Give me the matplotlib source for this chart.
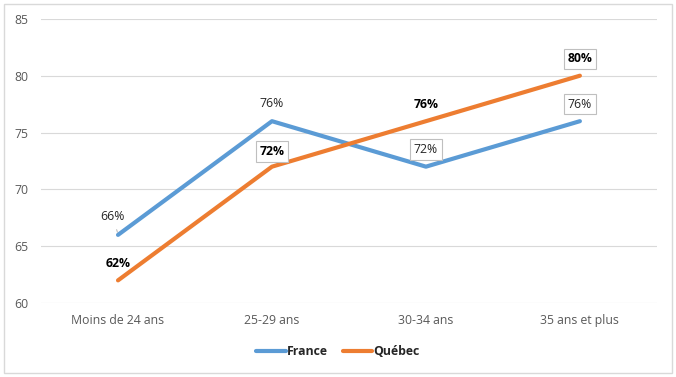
import matplotlib.pyplot as plt
from matplotlib.patches import Rectangle

categories = ['Moins de 24 ans', '25-29 ans', '30-34 ans', '35 ans et plus']
france = [66, 76, 72, 76]
quebec = [62, 72, 76, 80]
france_labels = ['66%', '76%', '72%', '76%']
quebec_labels = ['62%', '72%', '76%', '80%']
yticks = [60, 65, 70, 75, 80, 85]

plt.rcParams['font.family'] = ['Open Sans', 'DejaVu Sans']

fig = plt.figure(figsize=(6.76, 3.77), dpi=100)
ax = fig.add_axes([0.0607, 0.196, 0.911, 0.754])

x = range(len(categories))
ax.plot(x, france, color='#5B9BD5', lw=3, label='France', solid_capstyle='round', zorder=3)
ax.plot(x, quebec, color='#ED7D31', lw=3, label='Québec', solid_capstyle='round', zorder=3)

ax.set_xlim(-0.5, len(categories) - 0.5)
ax.set_ylim(60, 85)
ax.set_yticks(yticks)
ax.set_xticks(list(x))
ax.set_xticklabels(categories)
ax.tick_params(length=0, labelsize=8.8, colors='#595959', pad=8)
ax.tick_params(axis='y', pad=9)
ax.grid(axis='y', color='#D9D9D9', lw=0.8)
ax.set_axisbelow(True)
for s in ax.spines.values():
    s.set_visible(False)

box = dict(boxstyle='square,pad=0.3', fc='white', ec='#BFBFBF', lw=0.8)

# France labels (regular weight)
fr_offsets = [(-6, 18), (0, 18), (0, 17), (0, 17)]
fr_boxed = [False, False, True, True]
for i in x:
    ax.annotate(france_labels[i], (i, france[i]), xytext=fr_offsets[i],
                textcoords='offset pixels', ha='center', va='center',
                fontsize=8.8, color='#262626', zorder=5,
                bbox=box if fr_boxed[i] else None)
# leader line for first label
ax.annotate('', (0, france[0]), xytext=(-2, 8), textcoords='offset pixels',
            arrowprops=dict(arrowstyle='-', color='#A6A6A6', lw=0.6))

# Québec labels (bold)
qc_offsets = [(0, 17), (0, 15), (0, 17), (0, 17)]
qc_boxed = [False, True, False, True]
for i in x:
    ax.annotate(quebec_labels[i], (i, quebec[i]), xytext=qc_offsets[i],
                textcoords='offset pixels', ha='center', va='center',
                fontsize=8.8, fontweight='bold', color='#000000', zorder=5,
                bbox=box if qc_boxed[i] else None)

leg = fig.legend(loc='center', bbox_to_anchor=(0.5, 0.068), ncol=2, frameon=False,
                 handlelength=2.4, handletextpad=0.1, columnspacing=1.2,
                 prop={'size': 8.8, 'weight': 'bold'})
for t in leg.get_texts():
    t.set_color('#262626')

fig.patches.append(Rectangle((0.006, 0.01), 0.988, 0.98, transform=fig.transFigure,
                             fill=False, ec='#D9D9D9', lw=1))

plt.savefig('out.png', dpi=100)
